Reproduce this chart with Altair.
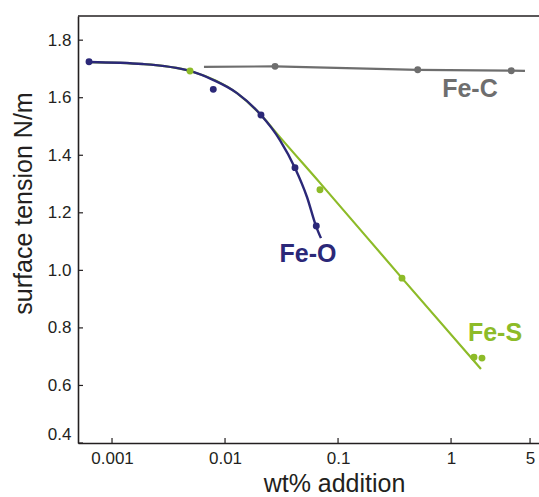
import altair as alt
import pandas as pd

# ---- data ----
# Fe-O measured points
feo_x = [0.000626, 0.00787, 0.0208, 0.0416, 0.0642]
feo_y = [1.725, 1.629, 1.540, 1.357, 1.154]
# Fe-O fitted curve
feo_cx = [0.000626, 0.00188, 0.0049, 0.00782, 0.01276, 0.0208, 0.0306, 0.0416, 0.0531, 0.0638, 0.0706]
feo_cy = [1.724, 1.717, 1.693, 1.662, 1.616, 1.540, 1.453, 1.356, 1.255, 1.154, 1.112]

# Fe-S measured points
fes_x = [0.0049, 0.0692, 0.368, 1.595, 1.878]
fes_y = [1.693, 1.280, 0.973, 0.698, 0.695]
# Fe-S fitted curve
fes_cx = [0.000626, 0.00188, 0.0049, 0.01276, 0.0208, 0.0306, 0.0692, 0.368, 1.839]
fes_cy = [1.724, 1.717, 1.693, 1.616, 1.540, 1.463, 1.304, 0.973, 0.657]

# Fe-C measured points and line
fec_x = [0.0277, 0.507, 3.41]
fec_y = [1.709, 1.697, 1.694]
fec_cx = [0.00651, 0.0277, 0.507, 3.41, 4.51]
fec_cy = [1.707, 1.709, 1.697, 1.694, 1.693]

# series labels
label_text = ["Fe-O", "Fe-S", "Fe-C"]
label_x = [0.0542, 2.45, 1.47]
label_y = [1.057, 0.782, 1.630]
label_col = ["#2b2878", "#8dbb28", "#6e6e6e"]

x_ticks = [0.001, 0.01, 0.1, 1, 5]
y_ticks = [0.4, 0.6, 0.8, 1.0, 1.2, 1.4, 1.6, 1.8]

NAVY = "#2b2878"
GREEN = "#8dbb28"
GRAY = "#6e6e6e"
INK = "#231f20"
W, H = 461, 427
FONT = "Liberation Sans"

xs = alt.Scale(type="log", domain=[0.0005, 6], nice=False)
ys = alt.Scale(domain=[0.4, 1.884], nice=False, zero=False)

xaxis = alt.Axis(values=x_ticks, format="~g", ticks=False, grid=False,
                 domainColor=INK, domainWidth=1.6, labelFont=FONT, labelFontSize=17,
                 labelColor=INK, labelPadding=7, title="wt% addition",
                 titleFont=FONT, titleFontSize=25, titleFontWeight="normal",
                 titleColor=INK, titleX=256, titleY=28)
yaxis = alt.Axis(values=y_ticks, format=".1f", ticks=False, grid=False,
                 domainColor=INK, domainWidth=1.6, labelFont=FONT, labelFontSize=17,
                 labelColor=INK, labelPadding=7, labelFlush=True,
                 title="surface tension N/m", titleFont=FONT, titleFontSize=25,
                 titleFontWeight="normal", titleColor=INK, titleX=-42, titleY=187)


def X(f):
    return alt.X(f + ":Q", scale=xs, axis=xaxis)


def Y(f):
    return alt.Y(f + ":Q", scale=ys, axis=yaxis)


fes_curve = alt.Chart(pd.DataFrame({"x": fes_cx, "y": fes_cy})).mark_line(
    color=GREEN, strokeWidth=2.2, interpolate="monotone").encode(x=X("x"), y=Y("y"))
feo_curve = alt.Chart(pd.DataFrame({"x": feo_cx, "y": feo_cy})).mark_line(
    color=NAVY, strokeWidth=2.4, interpolate="monotone").encode(x=X("x"), y=Y("y"))
fec_line = alt.Chart(pd.DataFrame({"x": fec_cx, "y": fec_cy})).mark_line(
    color=GRAY, strokeWidth=2.2).encode(x=X("x"), y=Y("y"))

fes_pts = alt.Chart(pd.DataFrame({"x": fes_x, "y": fes_y})).mark_circle(
    color=GREEN, size=48, opacity=1).encode(x=X("x"), y=Y("y"))
feo_pts = alt.Chart(pd.DataFrame({"x": feo_x, "y": feo_y})).mark_circle(
    color=NAVY, size=48, opacity=1).encode(x=X("x"), y=Y("y"))
fec_pts = alt.Chart(pd.DataFrame({"x": fec_x, "y": fec_y})).mark_circle(
    color=GRAY, size=48, opacity=1).encode(x=X("x"), y=Y("y"))

labels = alt.Chart(pd.DataFrame({"x": label_x, "y": label_y, "t": label_text, "c": label_col})).mark_text(
    font=FONT, fontSize=25, fontWeight="bold", align="center", baseline="middle").encode(
    x=X("x"), y=Y("y"), text="t:N", color=alt.Color("c:N", scale=None))

xtick_rules = alt.Chart(pd.DataFrame({"x": x_ticks})).mark_rule(color=INK, strokeWidth=1.2).encode(
    x=X("x"), y=alt.value(H - 5), y2=alt.value(H))
ytick_rules = alt.Chart(pd.DataFrame({"y": y_ticks})).mark_rule(color=INK, strokeWidth=1.2).encode(
    y=Y("y"), x=alt.value(0), x2=alt.value(5))
top_border = alt.Chart(pd.DataFrame({"y": [0]})).mark_rule(color=INK, strokeWidth=1.6).encode(
    x=alt.value(0), x2=alt.value(W), y=alt.value(0))

chart = alt.layer(
    top_border, xtick_rules, ytick_rules,
    fec_line, fes_curve, feo_curve,
    fec_pts, fes_pts, feo_pts, labels
).properties(
    width=W, height=H,
    autosize=alt.AutoSizeParams(type="none"),
    padding={"left": 78, "top": 16, "right": 0, "bottom": 54},
    background="white",
).configure_view(strokeWidth=0)

chart.save("out.html", embed_options={"renderer": "svg", "actions": False})
